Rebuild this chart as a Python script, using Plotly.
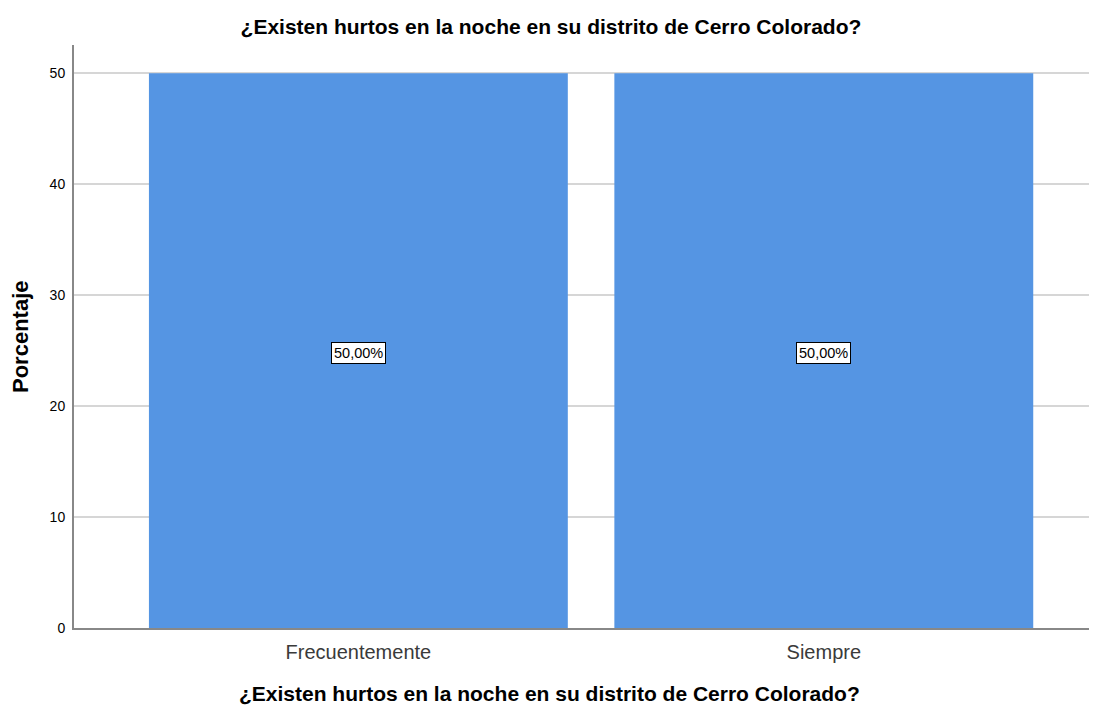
import plotly.graph_objects as go

categories = ["Frecuentemente", "Siempre"]
percentages = [50.0, 50.0]
labels = ["50,00%", "50,00%"]
y_ticks = [0, 10, 20, 30, 40, 50]

title_text = "¿Existen hurtos en la noche en su distrito de Cerro Colorado?"
FONT = "Liberation Sans, Arial, sans-serif"

fig = go.Figure()
fig.add_trace(go.Bar(
    x=categories, y=percentages, width=0.9,
    marker=dict(color="#5595E3", line=dict(width=0)),
    hoverinfo="skip",
))

for c, v, t in zip(categories, percentages, labels):
    fig.add_annotation(
        x=c, y=v / 2, text=t, showarrow=False, yshift=-2,
        font=dict(family=FONT, size=14.5, color="#000000"),
        bgcolor="#ffffff", bordercolor="#000000", borderwidth=1, borderpad=2,
    )

# axis titles (placed as paper annotations for precise position)
fig.add_annotation(
    text="<b>" + title_text + "</b>", xref="paper", yref="paper",
    x=0.4646, y=0, yshift=-65, xanchor="center", yanchor="middle", showarrow=False,
    font=dict(family=FONT, size=21, color="#000000"),
)
fig.add_annotation(
    text="<b>Porcentaje</b>", xref="paper", yref="paper", textangle=-90,
    x=0, xshift=-53.5, y=0.5, xanchor="center", yanchor="middle", showarrow=False,
    font=dict(family=FONT, size=22, color="#000000"),
)

fig.update_layout(
    width=1089, height=703,
    margin=dict(l=65.5, r=0, t=37, b=83.3),
    paper_bgcolor="white", plot_bgcolor="white",
    showlegend=False,
    bargap=0.1,
    font=dict(family=FONT, color="#000000"),
    title=dict(text="<b>" + title_text + "</b>", x=0.4986, xref="container", xanchor="center",
               y=0.973, yref="container", yanchor="middle",
               font=dict(family=FONT, size=21, color="#000000")),
    xaxis=dict(
        range=[-0.611, 1.587], showgrid=False, zeroline=False,
        showline=True, linecolor="#888888", linewidth=2,
        ticks="", ticklabelstandoff=5, tickfont=dict(family=FONT, size=20, color="#3a3a3a"),
    ),
    yaxis=dict(
        range=[0, 52.55], tickvals=y_ticks, showgrid=True, gridcolor="#d6d6d6", gridwidth=2,
        zeroline=False, showline=True, linecolor="#888888", linewidth=2,
        ticks="", ticklabelstandoff=4, tickfont=dict(family=FONT, size=14, color="#000000"),
    ),
)

fig.write_html("out.html")
